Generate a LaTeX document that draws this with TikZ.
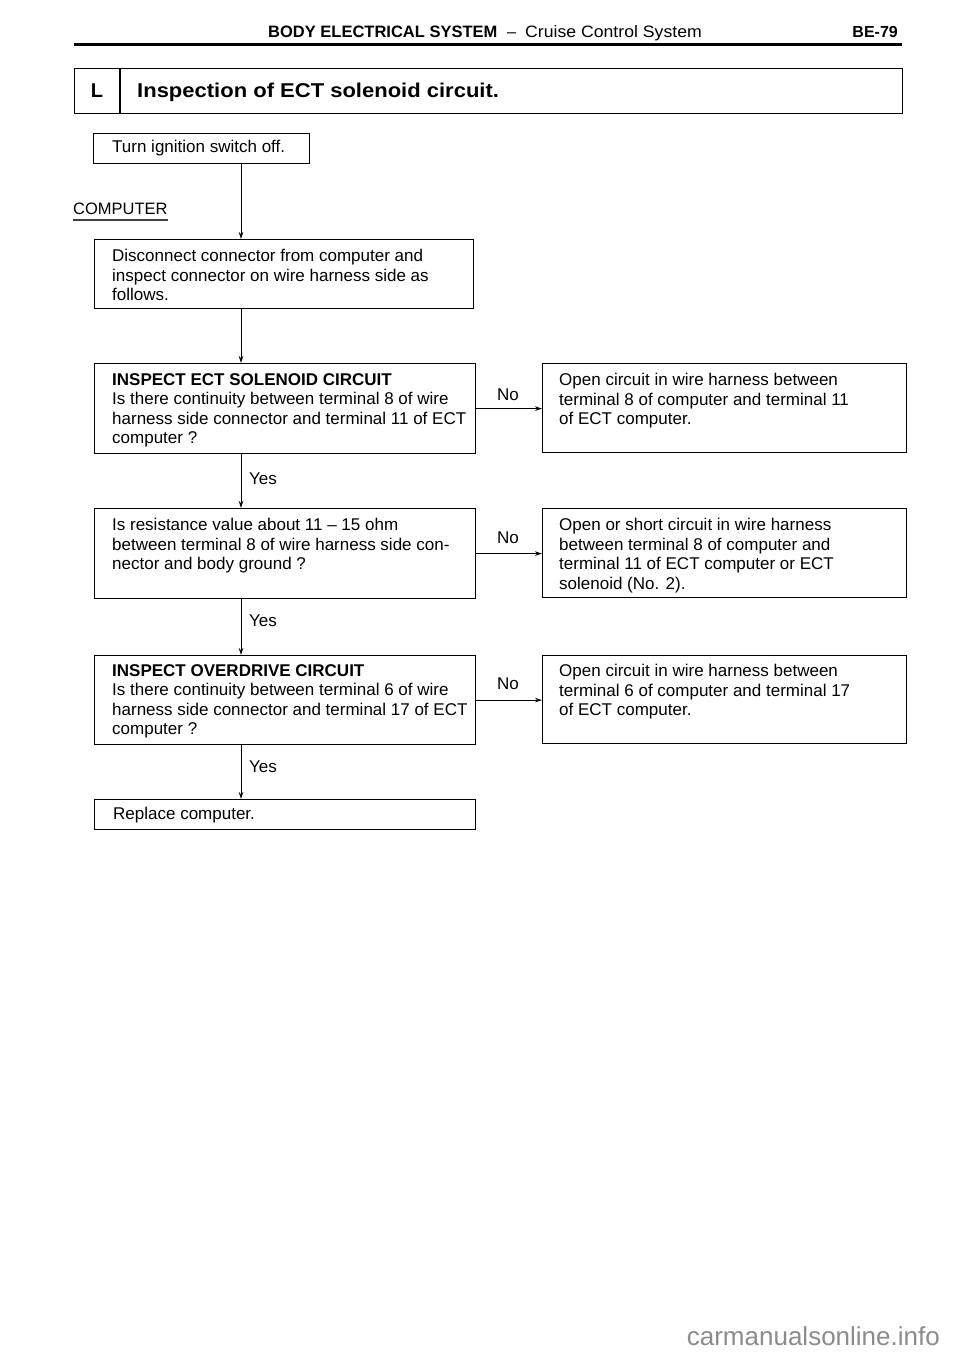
\documentclass[tikz,border=0pt]{standalone}
\usepackage{fontspec}
\usepackage{graphicx}
\setmainfont{Liberation Sans}
\usetikzlibrary{arrows.meta}
\begin{document}
\begin{tikzpicture}[x=1pt,y=-1pt,
  box/.style={draw, line width=1.2pt, rectangle, inner sep=0pt, anchor=north west},
  txt/.style={anchor=north west, inner sep=0pt, align=left, font=\fontsize{17}{19.5}\selectfont},
  lbl/.style={inner sep=0pt, font=\fontsize{17}{19.5}\selectfont},
  arr/.style={line width=1pt, -{Stealth[length=7pt,width=4.5pt]}},
  hdr/.style={inner sep=0pt, anchor=base west}]
\useasboundingbox[fill=white] (0,0) rectangle (960,1356);

% page header
\node[hdr, font=\fontsize{16.5}{20}\selectfont\bfseries] (hbold) at (268,38) {BODY ELECTRICAL SYSTEM};
\node[hdr, font=\fontsize{16.5}{20}\selectfont] (hdash) at (507,38) {–};
\node[hdr, font=\fontsize{16.5}{20}\selectfont] (hreg) at (525,38) {\scalebox{1.07}[1]{Cruise Control System}};
\node[inner sep=0pt, anchor=base east, font=\fontsize{16}{20}\selectfont\bfseries] (hpage) at (898,38) {BE-79};
\coordinate (ruleL) at (74,45);
\coordinate (ruleR) at (902,45);
\draw[line width=3pt] (ruleL) -- (ruleR);

% section title box
\node[box, minimum width=828pt, minimum height=45pt] (lbox) at (74,68) {};
\coordinate (ldiv) at (120,0);
\draw[line width=1.2pt] (lbox.north -| ldiv) -- (lbox.south -| ldiv);
\node[inner sep=0pt, anchor=base, font=\fontsize{20}{22}\selectfont\bfseries] (lletter) at (97,98) {L};
\node[hdr, font=\fontsize{20}{22}\selectfont\bfseries] (ltitle) at (137,98) {\scalebox{1.1}[1]{Inspection of ECT solenoid circuit.}};

% COMPUTER label
\node[hdr, font=\fontsize{16.5}{20}\selectfont] (comp) at (73,215) {COMPUTER};
\draw[line width=1.5pt, black!75] ([yshift=-5pt]comp.base west) -- ([yshift=-5pt]comp.base east);

% boxes
\node[box, minimum width=216pt, minimum height=30pt] (turn) at (93,133) {};
\node[lbl, anchor=west] (turnt) at ([xshift=19pt]turn.west) {Turn ignition switch off.};

\node[box, minimum width=379pt, minimum height=69pt] (disc) at (94,239) {};
\node[txt] (disct) at ([xshift=18pt,yshift=-10pt]disc.north west) {Disconnect connector from computer and\\inspect connector on wire harness side as\\follows.};

\node[box, minimum width=381pt, minimum height=90pt] (q1) at (94,363) {};
\node[txt] (q1t) at ([xshift=18pt,yshift=-10pt]q1.north west) {\textbf{INSPECT ECT SOLENOID CIRCUIT}\\Is there continuity between terminal 8 of wire\\harness side connector and terminal 11 of ECT\\computer ?};

\node[box, minimum width=364pt, minimum height=89pt] (r1) at (542,363) {};
\node[txt] (r1t) at ([xshift=17pt,yshift=-10pt]r1.north west) {Open circuit in wire harness between\\terminal 8 of computer and terminal 11\\of ECT computer.};

\node[box, minimum width=381pt, minimum height=90pt] (q2) at (94,508) {};
\node[txt] (q2t) at ([xshift=18pt,yshift=-10pt]q2.north west) {Is resistance value about 11 – 15 ohm\\between terminal 8 of wire harness side con-\\nector and body ground ?};

\node[box, minimum width=364pt, minimum height=89pt] (r2) at (542,508) {};
\node[txt] (r2t) at ([xshift=17pt,yshift=-10pt]r2.north west) {Open or short circuit in wire harness\\between terminal 8 of computer and\\terminal 11 of ECT computer or ECT\\solenoid (No. 2).};

\node[box, minimum width=381pt, minimum height=89pt] (q3) at (94,655) {};
\node[txt] (q3t) at ([xshift=18pt,yshift=-9pt]q3.north west) {\textbf{INSPECT OVERDRIVE CIRCUIT}\\Is there continuity between terminal 6 of wire\\harness side connector and terminal 17 of ECT\\computer ?};

\node[box, minimum width=364pt, minimum height=88pt] (r3) at (542,655) {};
\node[txt] (r3t) at ([xshift=17pt,yshift=-9pt]r3.north west) {Open circuit in wire harness between\\terminal 6 of computer and terminal 17\\of ECT computer.};

\node[box, minimum width=381pt, minimum height=30pt] (rep) at (94,799) {};
\node[lbl, anchor=west] (rept) at ([xshift=19pt]rep.west) {Replace computer.};

% connectors
\coordinate (spine) at (241,0);
\draw[arr] (turn.south -| spine) -- (disc.north -| spine);
\draw[arr] (disc.south -| spine) -- (q1.north -| spine);
\draw[arr] (q1.south -| spine) -- (q2.north -| spine);
\draw[arr] (q2.south -| spine) -- (q3.north -| spine);
\draw[arr] (q3.south -| spine) -- (rep.north -| spine);

\draw[arr] (q1.east) -- (q1.east -| r1.west);
\draw[arr] (q2.east) -- (q2.east -| r2.west);
\draw[arr] (q3.east) -- (q3.east -| r3.west);

% labels
\node[lbl, anchor=west] (y1) at (249,479) {Yes};
\node[lbl, anchor=west] (y2) at (249,621) {Yes};
\node[lbl, anchor=west] (y3) at (249,767) {Yes};
\node[lbl] (n1) at (508,395) {No};
\node[lbl] (n2) at (508,538) {No};
\node[lbl] (n3) at (508,684) {No};

% watermark
\node[inner sep=0pt, anchor=base east, text=black!45, font=\fontsize{26}{30}\selectfont] (wm) at (940,1345) {carmanualsonline.info};
\end{tikzpicture}
\end{document}
